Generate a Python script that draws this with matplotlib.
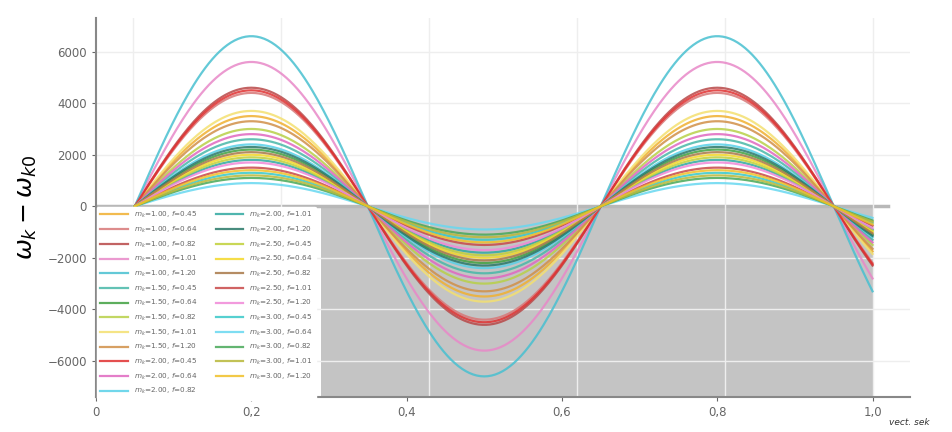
import numpy as np
import matplotlib
matplotlib.use("Agg")
import matplotlib.pyplot as plt
from matplotlib.ticker import FuncFormatter

# series parameters
m_vals = [1.00] * 5 + [1.50] * 5 + [2.00] * 5 + [2.50] * 5 + [3.00] * 5
f_vals = [0.45, 0.64, 0.82, 1.01, 1.20] * 5
# peak amplitude of each curve
amplitudes = [3500, 4400, 4600, 5600, 6600,
              2600, 2200, 3000, 3700, 3300,
              4500, 2800, 2400, 1800, 2300,
              1900, 2000, 2100, 1500, 1700,
              1300, 900, 1100, 1200, 1400]
colors = ['#f0b030', '#d87878', '#b84848', '#e888c8', '#48c0d0',
          '#48b8a8', '#40a040', '#b8d048', '#f4e070', '#d09048',
          '#e03030', '#e068c0', '#58d0e8', '#30a8a0', '#287868',
          '#c0d038', '#f4d828', '#a87848', '#c84848', '#f088d8',
          '#38c8c8', '#68d8f0', '#48a858', '#b8b838', '#f0c028']

# wave timing
t_start = 0.05
period = 0.6
t_end = 1.0

t = np.linspace(t_start, t_end, 400)

fig = plt.figure(figsize=(9.53, 4.32), dpi=100)
ax = fig.add_axes([0.1007, 0.081, 0.854, 0.877])

ax.set_xlim(0, 1.048)
ax.set_ylim(-7400, 7300)

# grey block in the lower right part of the original
ax.add_patch(plt.Rectangle((0.29, -7400), 0.71, 7400, color='#c4c4c4', zorder=0.5, lw=0))
ax.plot([0, 1.02], [0, 0], color='#b8b8b8', lw=2.5, zorder=0.55)

for y in [-6000, -4000, -2000, 2000, 4000, 6000]:
    ax.axhline(y, color='#eeeeee', lw=1, zorder=0.6)
for x in [0.048, 0.238, 0.429, 0.619, 0.81, 1.0]:
    ax.axvline(x, color='#eeeeee', lw=1, zorder=0.6)

for m, f, a, c in zip(m_vals, f_vals, amplitudes, colors):
    y = a * np.sin(2 * np.pi * (t - t_start) / period)
    ax.plot(t, y, color=c, lw=1.6, alpha=0.85, zorder=2,
            label='$m_k$=%.2f, $f$=%.2f' % (m, f))

leg = ax.legend(loc='upper left', bbox_to_anchor=(0.0, 0.505), ncol=2,
                fontsize=5.2, frameon=True, framealpha=1, edgecolor='white',
                handlelength=3.8, labelspacing=0.62, columnspacing=2.6,
                borderaxespad=0.15, borderpad=0.45)
leg.set_zorder(3)
for txt in leg.get_texts():
    txt.set_color('#666666')

ax.set_xticks([0, 0.2, 0.4, 0.6, 0.8, 1.0])
ax.xaxis.set_major_formatter(FuncFormatter(lambda v, p: '0' if v == 0 else ('%.1f' % v).replace('.', ',')))
ax.set_yticks([-6000, -4000, -2000, 0, 2000, 4000, 6000])
ax.tick_params(colors='#666666', labelsize=8.5, length=3)

for s in ['top', 'right']:
    ax.spines[s].set_visible(False)
ax.spines['left'].set_color('#888888')
ax.spines['left'].set_linewidth(1.5)
ax.spines['bottom'].set_color('#888888')
ax.spines['bottom'].set_linewidth(1.5)

ax.set_ylabel(r'$\omega_k - \omega_{k0}$', fontsize=18, labelpad=6)
fig.text(0.975, 0.012, 'vect. sek', fontsize=6.5, style='italic', ha='right', va='bottom', color='#333333')

fig.savefig('out.png', dpi=100)
